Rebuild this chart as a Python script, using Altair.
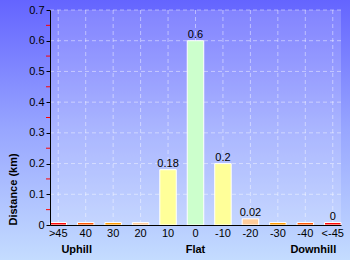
import altair as alt
import pandas as pd

categories = [">45", "40", "30", "20", "10", "0", "-10", "-20", "-30", "-40", "<-45"]
distance = [0.008, 0.008, 0.008, 0.008, 0.18, 0.6, 0.2, 0.02, 0.008, 0.008, 0.008]
value_labels = ["", "", "", "", "0.18", "0.6", "0.2", "0.02", "", "", "0"]
bar_colors = ["#ff0000", "#ff5500", "#ff9900", "#ffcc99", "#ffff99", "#ccffcc",
              "#ffff99", "#ffcc99", "#ff9900", "#ff5500", "#ff0000"]
major_ticks = [0.1, 0.2, 0.3, 0.4, 0.5, 0.6, 0.7]
minor_ticks = [0.05, 0.15, 0.25, 0.35, 0.45, 0.55, 0.65]
axis_ticks = [0, 0.1, 0.2, 0.3, 0.4, 0.5, 0.6, 0.7]

FONT = "Liberation Sans"
W, H = 291, 215

df = pd.DataFrame({"cat": categories, "dist": distance, "lab": value_labels})
grid_df = pd.DataFrame({"y": major_ticks})
minor_df = pd.DataFrame({"y": minor_ticks})
one = pd.DataFrame({"a": [0]})

xscale = alt.Scale(domain=categories, paddingInner=0.4, paddingOuter=0)
yscale = alt.Scale(domain=[0, 0.7])

x_axis = alt.Axis(title=None, labelAngle=0, ticks=False, domainColor="black",
                  labelFont=FONT, labelFontSize=11, labelColor="black",
                  labelPadding=2, zindex=1, grid=False, bandPosition=0.5,
                  labelOverlap=False, labelAlign="center", labelFlush=False)
y_axis = alt.Axis(title="Distance (km)", values=axis_ticks,
                  format="~g", grid=False, domainColor="black", tickColor="black",
                  tickSize=4, labelFont=FONT, labelFontSize=11, labelColor="black",
                  labelOverlap=False, labelFlush=False,
                  titleFont=FONT, titleFontSize=11, titleFontWeight="bold",
                  titleColor="black", titleAnchor="start", titlePadding=10,
                  zindex=1)

grad = alt.LinearGradient(
    gradient="linear", x1=0, y1=0, x2=0, y2=1,
    stops=[alt.GradientStop(offset=0, color="#6464ff"),
           alt.GradientStop(offset=0.5, color="#98a6ff"),
           alt.GradientStop(offset=1, color="#c4dcff")])

bg = alt.Chart(one).mark_rect(color=grad, clip=False).encode(
    x=alt.value(-50), x2=alt.value(W + 9), y=alt.value(-10), y2=alt.value(H + 35))

overlay = alt.Chart(one).mark_rect(color="white", opacity=0.18).encode(
    x=alt.value(0), x2=alt.value(W), y=alt.value(0), y2=alt.value(H))

hgrid = alt.Chart(grid_df).mark_rule(color="white", opacity=0.45, strokeDash=[4, 3]).encode(
    y=alt.Y("y:Q", scale=yscale, axis=y_axis, title="Distance (km)"),
    x=alt.value(0), x2=alt.value(W))

vgrid = alt.Chart(df).mark_rule(color="white", opacity=0.45, strokeDash=[4, 3]).encode(
    x=alt.X("cat:N", scale=xscale, sort=categories, bandPosition=0.5, axis=x_axis, title=None),
    y=alt.value(0), y2=alt.value(H))

bars = alt.Chart(df).mark_bar(stroke="white", strokeWidth=1).encode(
    x=alt.X("cat:N", scale=xscale, sort=categories, axis=x_axis, title=None),
    y=alt.Y("dist:Q", scale=yscale, axis=y_axis, title="Distance (km)"),
    color=alt.Color("cat:N", scale=alt.Scale(domain=categories, range=bar_colors), legend=None),
)

texts = alt.Chart(df).mark_text(font=FONT, fontSize=11, color="black", baseline="bottom", dy=-1).encode(
    x=alt.X("cat:N", scale=xscale, sort=categories, axis=x_axis, title=None),
    y=alt.Y("dist:Q", scale=yscale, axis=y_axis, title="Distance (km)"),
    text="lab:N")

minor = alt.Chart(minor_df).mark_rule(color="red", strokeWidth=1).encode(
    y=alt.Y("y:Q", scale=yscale, axis=y_axis, title="Distance (km)"),
    x=alt.value(-4), x2=alt.value(0))


def group_label(txt, cat, dx):
    d = pd.DataFrame({"cat": [cat], "t": [txt]})
    return alt.Chart(d).mark_text(font=FONT, fontSize=11, fontWeight="bold", color="black",
                                  baseline="middle", dx=dx, dy=25).encode(
        x=alt.X("cat:N", scale=xscale, sort=categories, axis=x_axis, title=None),
        y=alt.value(H),
        text="t:N")


g1 = group_label("Uphill", "40", -9)
g2 = group_label("Flat", "0", 0)
g3 = group_label("Downhill", "-40", 8)

chart = alt.layer(bg, overlay, hgrid, vgrid, bars, texts, minor, g1, g2, g3).properties(
    width=W, height=H, autosize="none",
    padding={"left": 50, "top": 10, "right": 9, "bottom": 35},
    background="#c4dcff",
).configure_view(strokeWidth=0)

chart.save("out.html", embed_options={"renderer": "svg", "actions": False})
